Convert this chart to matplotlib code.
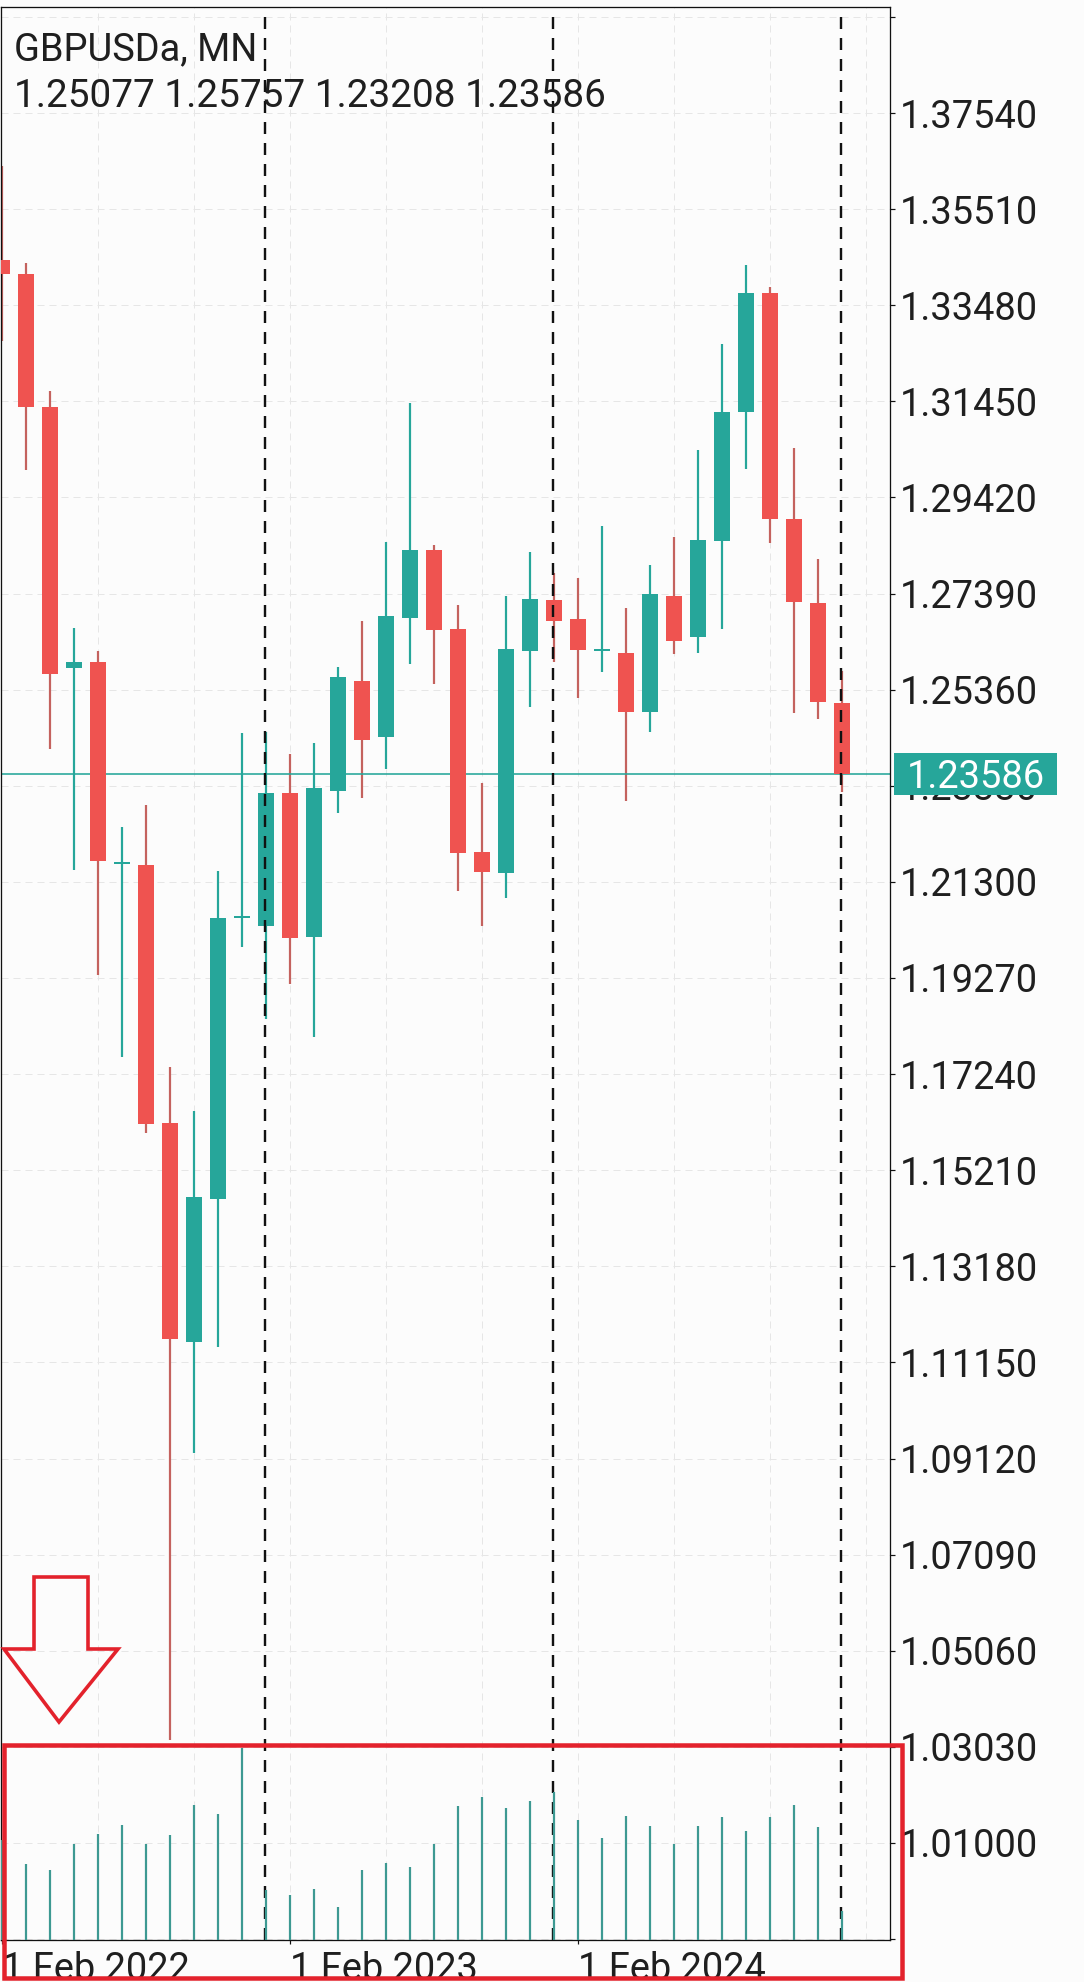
import matplotlib
matplotlib.use("Agg")
import matplotlib.pyplot as plt
import matplotlib.transforms as mtransforms
from matplotlib.patches import Rectangle, Polygon
import numpy as np

plt.rcParams['font.family'] = ['Roboto', 'DejaVu Sans']
plt.rcParams['lines.scale_dashes'] = False

# ---------------- data ----------------
symbol = "GBPUSDa, MN"
months = ["2022-02", "2022-03", "2022-04", "2022-05", "2022-06", "2022-07", "2022-08", "2022-09",
          "2022-10", "2022-11", "2022-12", "2023-01", "2023-02", "2023-03", "2023-04", "2023-05",
          "2023-06", "2023-07", "2023-08", "2023-09", "2023-10", "2023-11", "2023-12", "2024-01",
          "2024-02", "2024-03", "2024-04", "2024-05", "2024-06", "2024-07", "2024-08", "2024-09",
          "2024-10", "2024-11", "2024-12", "2025-01"]
opens = [1.3444, 1.3413, 1.3132, 1.2581, 1.2595, 1.2168, 1.2166, 1.1620, 1.1158, 1.1460,
         1.2054, 1.2036, 1.2317, 1.2013, 1.2321, 1.2555, 1.2437, 1.2688, 1.2832, 1.2665,
         1.2194, 1.2148, 1.2617, 1.2726, 1.2686, 1.2619, 1.2614, 1.2488, 1.2733, 1.2648,
         1.2849, 1.3123, 1.3374, 1.2897, 1.2720, 1.25077]
highs = [1.3643, 1.3437, 1.3167, 1.2667, 1.2617, 1.2245, 1.2293, 1.1738, 1.1646, 1.2153,
         1.2445, 1.2447, 1.2401, 1.2423, 1.2584, 1.2680, 1.2848, 1.3142, 1.2841, 1.2714,
         1.2338, 1.2733, 1.2827, 1.2783, 1.2772, 1.2881, 1.2709, 1.2800, 1.2859, 1.3043,
         1.3266, 1.3433, 1.3387, 1.3047, 1.2811, 1.25757]
lows = [1.3273, 1.3001, 1.2411, 1.2156, 1.1934, 1.1760, 1.1599, 1.0318, 1.0924, 1.1147,
        1.1992, 1.1841, 1.1915, 1.1802, 1.2275, 1.2308, 1.2369, 1.2591, 1.2548, 1.2110,
        1.2036, 1.2096, 1.2500, 1.2595, 1.2519, 1.2574, 1.2300, 1.2446, 1.2612, 1.2614,
        1.2665, 1.3002, 1.2846, 1.2487, 1.2474, 1.23208]
closes = [1.3413, 1.3132, 1.2570, 1.2594, 1.2175, 1.2172, 1.1618, 1.1164, 1.1464, 1.2053,
          1.2059, 1.2317, 1.2011, 1.2329, 1.2562, 1.2429, 1.2692, 1.2830, 1.2663, 1.2192,
          1.2150, 1.2621, 1.2728, 1.2682, 1.2619, 1.2621, 1.2488, 1.2739, 1.2638, 1.2853,
          1.3123, 1.3374, 1.2897, 1.2722, 1.2509, 1.23586]
volumes = [100, 76, 70, 96, 106, 115, 96, 105, 135, 126, 192, 50, 45, 51, 33, 70, 77, 73,
           96, 134, 143, 132, 139, 148, 120, 102, 124, 114, 96, 114, 123, 109, 123, 135, 113, 29]
last_price = 1.23586

y_ticks = [1.39570, 1.37540, 1.35510, 1.33480, 1.31450, 1.29420, 1.27390, 1.25360, 1.23330,
           1.21300, 1.19270, 1.17240, 1.15210, 1.13180, 1.11150, 1.09120, 1.07090, 1.05060,
           1.03030, 1.01000, 0.98970]
y_tick_labels = ["", "1.37540", "1.35510", "1.33480", "1.31450", "1.29420", "1.27390", "1.25360",
                 "1.23330", "1.21300", "1.19270", "1.17240", "1.15210", "1.13180", "1.11150",
                 "1.09120", "1.07090", "1.05060", "1.03030", "1.01000", ""]
x_tick_months = ["2022-02", "2023-02", "2024-02"]
x_tick_labels = ["1 Feb 2022", "1 Feb 2023", "1 Feb 2024"]
separator_months = ["2023-01", "2024-01", "2025-01"]
grid_months = ["2022-06", "2022-10", "2023-02", "2023-06", "2023-10", "2024-02", "2024-06",
               "2024-10", "2025-02"]

# ---------------- style ----------------
W, H = 1084, 1982
PX = 0.72  # points per pixel at dpi 100
BG = "#fcfcfc"
UP = "#26a69a"
DOWN = "#ef5350"
DOWN_WICK = "#c4625e"
VOL = "#3d9992"
TXT = "#1f1f1f"
FS = 38 * PX

fig = plt.figure(figsize=(W / 100, H / 100), dpi=100, facecolor=BG)
ax = fig.add_axes([0.5 / W, 42 / H, 889.5 / W, 1933 / H])
ax.set_facecolor(BG)

def month_index(m):
    # months after the first bar, continuing beyond the data when needed
    y0, m0 = map(int, months[0].split("-"))
    y1, m1 = map(int, m.split("-"))
    return (y1 - y0) * 12 + (m1 - m0)

n = len(months)
x = np.arange(n)
o = np.array(opens); h = np.array(highs); l = np.array(lows); c = np.array(closes)
up = c >= o
min_body = 0.0005
body_h = np.maximum(np.abs(c - o), min_body)
body_bottom = (o + c) / 2 - body_h / 2
body_colors = [UP if u else DOWN for u in up]
wick_colors = [UP if u else DOWN_WICK for u in up]

ylo, yhi = 0.98951, 1.39779
ax.set_xlim(-0.07, 37)
ax.set_ylim(ylo, yhi)

# grid
for gm in grid_months:
    ax.axvline(month_index(gm), color="#e6e6e6", lw=1.0 * PX, dashes=(7 * PX, 5 * PX), zorder=0)
for yt in y_ticks:
    ax.axhline(yt, color="#e6e6e6", lw=1.0 * PX, dashes=(7 * PX, 5 * PX), zorder=0)

# period separators
for sm in separator_months:
    ax.axvline(month_index(sm) - 0.06, color="#111111", lw=2.4 * PX, dashes=(12 * PX, 9 * PX), zorder=4)

# candles
ax.vlines(x, l, h, colors=wick_colors, linewidth=2.2 * PX, zorder=2)
ax.bar(x, body_h, bottom=body_bottom, width=0.66, color=body_colors, linewidth=0, zorder=3)

# last price line
ax.axhline(last_price, color=UP, lw=1.6 * PX, zorder=2.5)

# volumes on twin axis
ax2 = ax.twinx()
ax2.set_ylim(0, 1933)
ax2.vlines(x, 0, volumes, colors=VOL, linewidth=2.2 * PX, zorder=3)
ax2.set_yticks([])
for s in ax2.spines.values():
    s.set_visible(False)
ax2.patch.set_visible(False)

# axes / ticks
ax.yaxis.tick_right()
ax.set_yticks(y_ticks)
ax.set_yticklabels(y_tick_labels)
ax.tick_params(axis="y", right=True, left=False, length=5 * PX, width=1.2 * PX, pad=5 * PX,
               labelsize=FS, labelcolor=TXT, colors="#111111")
ax.set_xticks([month_index(m) for m in x_tick_months])
ax.set_xticklabels([])
ax.tick_params(axis="x", direction="out", length=4 * PX, width=1.2 * PX, colors="#111111")
for lab in ax.get_yticklabels():
    lab.set_color(TXT)
for s in ax.spines.values():
    s.set_color("#111111")
    s.set_linewidth(1.3 * PX)

# x labels (left aligned at the tick, partly cut by the image bottom)
xtr = ax.get_xaxis_transform()
for m, lab in zip(x_tick_months, x_tick_labels):
    ax.text(month_index(m), -40 / 1933, lab, transform=xtr, ha="left", va="baseline",
            fontsize=FS, color=TXT, clip_on=False)

# price label box on the right axis
btr = mtransforms.blended_transform_factory(fig.transFigure, ax.transData)
box_h = 42 * (yhi - ylo) / 1933
ax.add_patch(Rectangle((894 / W, last_price - box_h / 2), 163 / W, box_h, transform=btr,
                       facecolor=UP, edgecolor="none", zorder=10, clip_on=False))
ax.text(976 / W, last_price, f"{last_price:.5f}", transform=btr, ha="center",
        va="center_baseline", color="white", fontsize=FS, zorder=11, clip_on=False)

# header text
fig.text(14 / W, 1 - 60 / H, symbol, ha="left", va="baseline", fontsize=FS, color=TXT)
fig.text(14 / W, 1 - 107 / H,
         f"{opens[-1]:.5f} {highs[-1]:.5f} {lows[-1]:.5f} {closes[-1]:.5f}",
         ha="left", va="baseline", fontsize=FS * 1.02, color=TXT)

# red annotation: rectangle around volumes and an outlined down arrow
RED = "#e3222c"
def fpt(px, py):
    return (px / W, 1 - py / H)
fig.add_artist(Rectangle(fpt(4, 1978), 898 / W, 233 / H, transform=fig.transFigure,
                         fill=False, edgecolor=RED, linewidth=4.5 * PX, zorder=20))
arrow_px = [(34, 1577), (88, 1577), (88, 1649), (118, 1649), (59, 1722), (4, 1649), (34, 1649)]
fig.add_artist(Polygon([fpt(*p) for p in arrow_px], closed=True, transform=fig.transFigure,
                       fill=False, edgecolor=RED, linewidth=3.6 * PX, joinstyle="miter", zorder=20))

fig.savefig("out.png", dpi=100, facecolor=BG)
